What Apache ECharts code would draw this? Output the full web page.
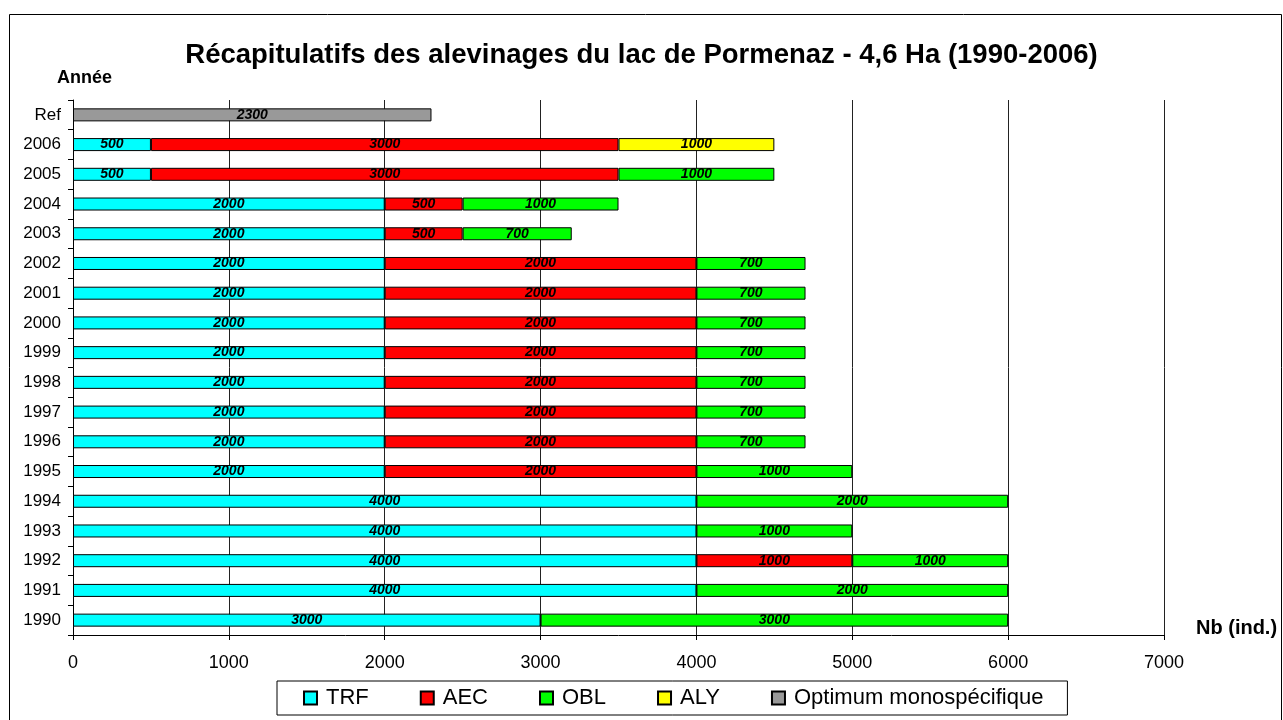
<!DOCTYPE html>
<html>
<head>
<meta charset="utf-8">
<script src="https://cdn.jsdelivr.net/npm/echarts@6/dist/echarts.min.js"></script>
<style>
  html, body { margin: 0; padding: 0; background: #fff; }
  #chart { width: 1283px; height: 720px; }
</style>
</head>
<body>
<div id="chart"></div>
<script>
// données des alevinages
const years = ['1990', '1991', '1992', '1993', '1994', '1995', '1996', '1997', '1998',
  '1999', '2000', '2001', '2002', '2003', '2004', '2005', '2006', 'Ref'];
const trf = [3000, 4000, 4000, 4000, 4000, 2000, 2000, 2000, 2000, 2000, 2000, 2000, 2000, 2000, 2000, 500, 500, null];
const aec = [null, null, 1000, null, null, 2000, 2000, 2000, 2000, 2000, 2000, 2000, 2000, 500, 500, 3000, 3000, null];
const obl = [3000, 2000, 1000, 1000, 2000, 1000, 700, 700, 700, 700, 700, 700, 700, 700, 1000, 1000, null, null];
const aly = [null, null, null, null, null, null, null, null, null, null, null, null, null, null, null, null, 1000, null];
const optimum = [null, null, null, null, null, null, null, null, null, null, null, null, null, null, null, null, null, 2300];

const chart = echarts.init(document.getElementById('chart'));

function barSeries(name, data, color) {
  return {
    name: name,
    type: 'bar',
    stack: 'total',
    data: data,
    barWidth: 13,
    itemStyle: { color: color, borderColor: '#000', borderWidth: 1 },
    label: {
      show: true,
      position: 'inside',
      color: '#000',
      fontStyle: 'italic',
      fontWeight: 'bold',
      fontSize: 14,
      fontFamily: 'Liberation Sans, Arial'
    },
    emphasis: { disabled: true }
  };
}

const option = {
  animation: false,
  textStyle: { fontFamily: 'Liberation Sans, Arial' },
  title: {
    text: 'Récapitulatifs des alevinages du lac de Pormenaz - 4,6 Ha (1990-2006)',
    left: 'center',
    top: 36,
    textStyle: { fontSize: 27.5, fontWeight: 'bold', color: '#000' }
  },
  graphic: [
    { type: 'rect', shape: { x: 9.5, y: 14.5, width: 1272, height: 710 },
      style: { fill: 'none', stroke: '#000', lineWidth: 1 } },
    { type: 'text', left: 57, top: 69,
      style: { text: 'Année', font: 'bold 18px Liberation Sans, Arial', fill: '#000' } },
    { type: 'text', left: 1196, top: 618,
      style: { text: 'Nb (ind.)', font: 'bold 20px Liberation Sans, Arial', fill: '#000' } }
  ],
  legend: {
    left: 277,
    top: 681,
    padding: [6, 24, 6, 26],
    borderColor: '#000',
    borderWidth: 1,
    itemWidth: 13,
    itemHeight: 13,
    itemGap: 51,
    icon: 'rect',
    textStyle: { fontSize: 22, color: '#000', padding: [0, 0, 0, 4] },
    data: ['TRF', 'AEC', 'OBL', 'ALY', 'Optimum monospécifique']
  },
  grid: { left: 73, right: 119, top: 100, bottom: 85 },
  xAxis: {
    type: 'value',
    min: 0,
    max: 7000,
    interval: 1000,
    axisLine: { show: true, lineStyle: { color: '#000' } },
    axisTick: { show: true, length: 5, lineStyle: { color: '#000' } },
    axisLabel: { fontSize: 18, color: '#000', margin: 19, formatter: v => String(v) },
    splitLine: { show: true, lineStyle: { color: '#222', width: 1 } }
  },
  yAxis: {
    type: 'category',
    data: years,
    axisLine: { show: true, lineStyle: { color: '#000' } },
    axisTick: { show: true, length: 5, lineStyle: { color: '#000' } },
    axisLabel: { fontSize: 17, color: '#000', margin: 12 }
  },
  series: [
    barSeries('TRF', trf, '#00ffff'),
    barSeries('AEC', aec, '#ff0000'),
    barSeries('OBL', obl, '#00ff00'),
    barSeries('ALY', aly, '#ffff00'),
    barSeries('Optimum monospécifique', optimum, '#999999')
  ]
};
chart.setOption(option);
</script>
</body>
</html>
